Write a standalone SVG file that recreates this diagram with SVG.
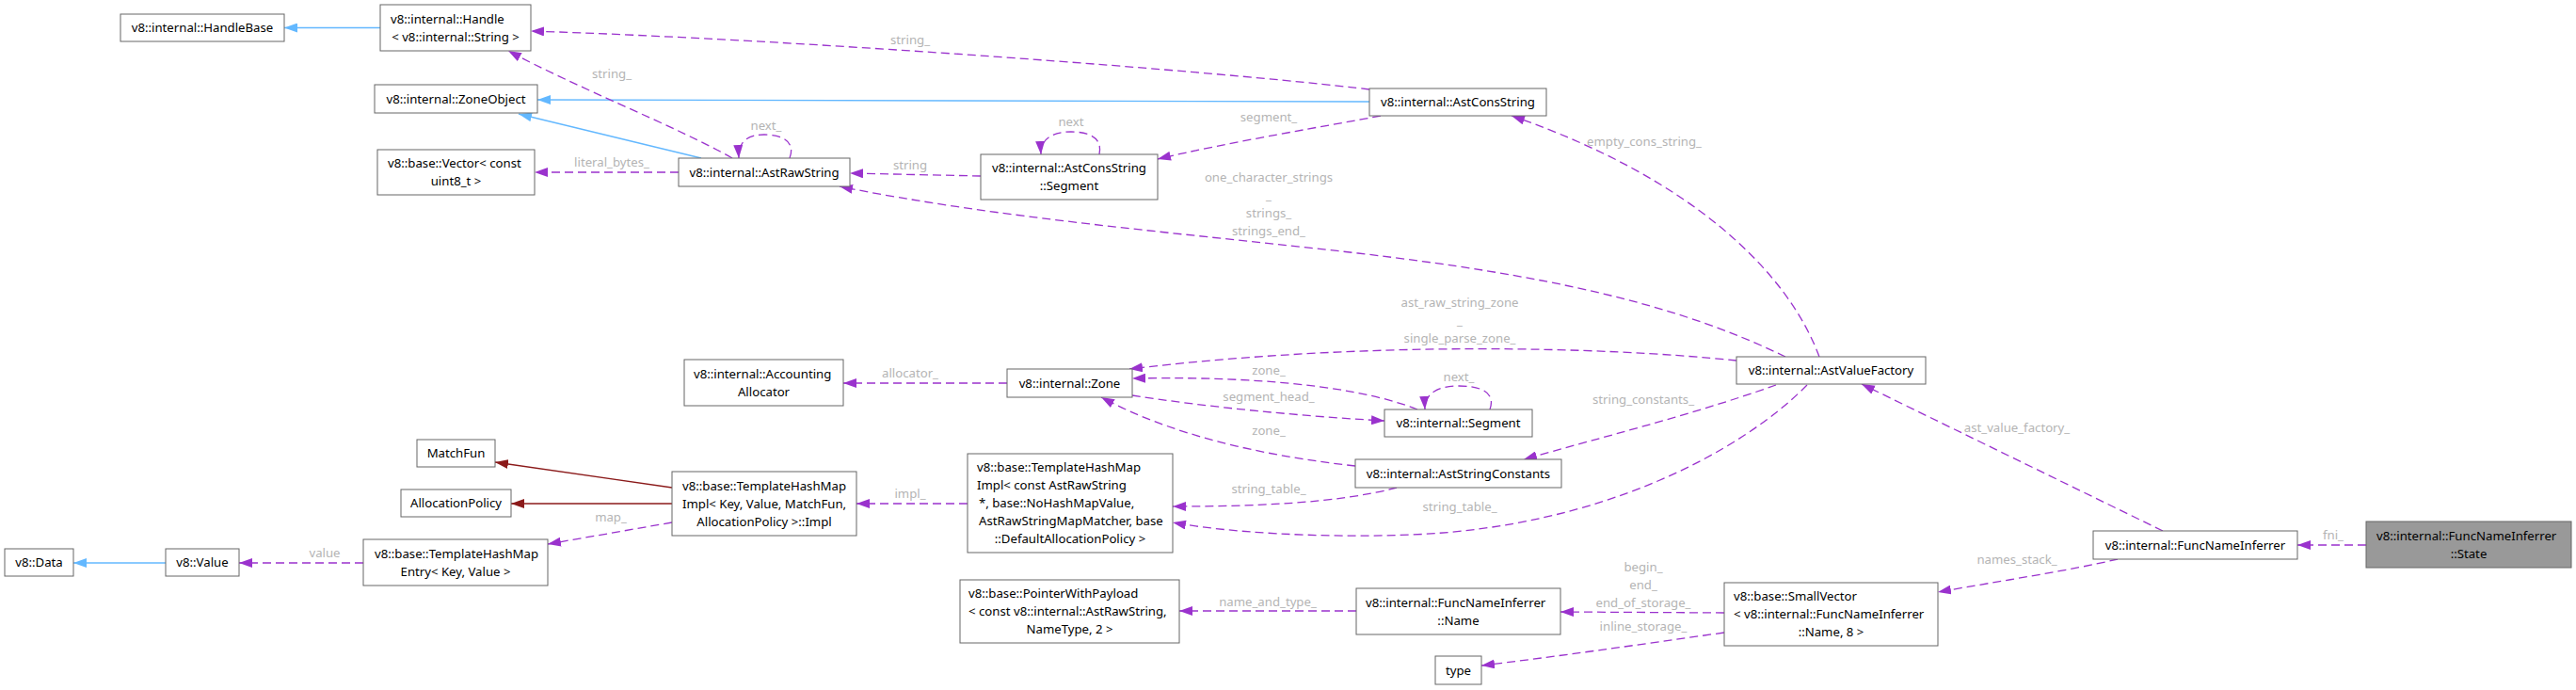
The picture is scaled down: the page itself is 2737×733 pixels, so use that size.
<svg xmlns="http://www.w3.org/2000/svg" width="2737" height="733" viewBox="0 0 2737 733">
<style>
.node rect{fill:#fff;stroke:#666;stroke-width:1}
.node.hl rect{fill:#999}
.node text{font-family:"Noto Sans","Open Sans","DejaVu Sans",sans-serif;font-size:13.2px;fill:#000}
.m{text-anchor:middle}
.lbl{font-family:"Noto Sans","Open Sans","DejaVu Sans",sans-serif;font-size:13.2px;fill:#b4b4b4;text-anchor:middle}
.dash{fill:none;stroke:#9a32cd;stroke-width:1.3;stroke-dasharray:9,5;marker-end:url(#ap)}
.inh{fill:none;stroke:#63b8ff;stroke-width:1.3;marker-end:url(#ab)}
.tpl{fill:none;stroke:#8b1a1a;stroke-width:1.3;marker-end:url(#ar)}
</style>
<defs>
<marker id="ap" markerUnits="userSpaceOnUse" viewBox="0 0 14 10" refX="14" refY="5" markerWidth="14" markerHeight="10" orient="auto"><path d="M0,0 L14,5 L0,10 z" fill="#9a32cd"/></marker>
<marker id="ab" markerUnits="userSpaceOnUse" viewBox="0 0 14 10" refX="14" refY="5" markerWidth="14" markerHeight="10" orient="auto"><path d="M0,0 L14,5 L0,10 z" fill="#63b8ff"/></marker>
<marker id="ar" markerUnits="userSpaceOnUse" viewBox="0 0 14 10" refX="14" refY="5" markerWidth="14" markerHeight="10" orient="auto"><path d="M0,0 L14,5 L0,10 z" fill="#8b1a1a"/></marker>
</defs>
<rect width="2737" height="733" fill="#fff"/>
<g id="edges">
<path class="inh" d="M404,29.5 L302,29.5"/>
<path class="inh" d="M1455,108 L571,106"/>
<path class="inh" d="M745,168 L551,121"/>
<path class="inh" d="M176,598 L78,598"/>
<path class="tpl" d="M714,518 L526,491"/>
<path class="tpl" d="M714,535 L543,535"/>
<path class="dash" d="M1455,95 C1300,76 850,42 564,33"/>
<text class="lbl" x="967" y="46.5">string_</text>
<path class="dash" d="M778,168 C720,135 610,92 540,54"/>
<text class="lbl" x="650" y="82.5">string_</text>
<path class="dash" d="M721,183 L568,183"/>
<text class="lbl" x="650" y="176.5">literal_bytes_</text>
<path class="dash" d="M839,168 C846,150 830,143 812,143 C795,143 784,150 785,168"/>
<text class="lbl" x="814" y="137.5">next_</text>
<path class="dash" d="M1042,187 L903,184"/>
<text class="lbl" x="967" y="179.5">string</text>
<path class="dash" d="M1168,164 C1172,145 1155,140 1138,140 C1118,140 1105,148 1106,164"/>
<text class="lbl" x="1138" y="133.5">next</text>
<path class="dash" d="M1467,123 C1420,132 1300,152 1230,169"/>
<text class="lbl" x="1348" y="128.5">segment_</text>
<path class="dash" d="M1933,379 C1900,290 1800,190 1606,123"/>
<text class="lbl" x="1747" y="154.5">empty_cons_string_</text>
<path class="dash" d="M1897,379 C1780,322 1640,292 1443,269 C1260,248 1060,232 892,198"/>
<text class="lbl" x="1348" y="192.5">one_character_strings</text>
<text class="lbl" x="1348" y="211.5">_</text>
<text class="lbl" x="1348" y="230.5">strings_</text>
<text class="lbl" x="1348" y="249.5">strings_end_</text>
<path class="dash" d="M1845,383 C1700,368 1450,362 1200,392"/>
<text class="lbl" x="1551" y="325.5">ast_raw_string_zone</text>
<text class="lbl" x="1551" y="344.5">_</text>
<text class="lbl" x="1551" y="363.5">single_parse_zone_</text>
<path class="dash" d="M1506,435 C1430,405 1300,400 1203,402"/>
<text class="lbl" x="1348" y="397.5">zone_</text>
<path class="dash" d="M1203,420 C1280,432 1380,442 1471,447"/>
<text class="lbl" x="1348" y="425.5">segment_head_</text>
<path class="dash" d="M1583,435 C1590,415 1570,410 1550,410 C1528,410 1513,418 1514,435"/>
<text class="lbl" x="1550" y="404.5">next_</text>
<path class="dash" d="M1440,495 C1350,485 1250,465 1170,422"/>
<text class="lbl" x="1348" y="461.5">zone_</text>
<path class="dash" d="M1887,409 C1800,440 1700,465 1619,488"/>
<text class="lbl" x="1746" y="428.5">string_constants_</text>
<path class="dash" d="M1484,518 C1420,535 1330,538 1246,538"/>
<text class="lbl" x="1348" y="523.5">string_table_</text>
<path class="dash" d="M1920,409 C1850,480 1700,560 1500,568 C1400,572 1300,565 1246,555"/>
<text class="lbl" x="1551" y="542.5">string_table_</text>
<path class="dash" d="M1070,407 L896,407"/>
<text class="lbl" x="967" y="400.5">allocator_</text>
<path class="dash" d="M1028,535 L910,535"/>
<text class="lbl" x="967" y="528.5">impl_</text>
<path class="dash" d="M714,555 L582,578"/>
<text class="lbl" x="649" y="553.5">map_</text>
<path class="dash" d="M386,598 L254,598"/>
<text class="lbl" x="345" y="591.5">value</text>
<path class="dash" d="M1441,649 L1253,649"/>
<text class="lbl" x="1347" y="643.5">name_and_type_</text>
<path class="dash" d="M1832,651 L1658,650"/>
<text class="lbl" x="1746" y="606.5">begin_</text>
<text class="lbl" x="1746" y="625.5">end_</text>
<text class="lbl" x="1746" y="644.5">end_of_storage_</text>
<path class="dash" d="M1832,672 C1740,685 1650,698 1574,707"/>
<text class="lbl" x="1746" y="669.5">inline_storage_</text>
<path class="dash" d="M2250,594 C2200,606 2120,618 2059,629"/>
<text class="lbl" x="2143" y="598.5">names_stack_</text>
<path class="dash" d="M2298,564 L1978,408"/>
<text class="lbl" x="2143" y="458.5">ast_value_factory_</text>
<path class="dash" d="M2514,579 L2441,579"/>
<text class="lbl" x="2479" y="572.5">fni_</text>
</g>
<g id="n_handlebase" class="node"><rect x="128" y="15" width="174" height="29"/><text class="m" x="215" y="34">v8::internal::HandleBase</text></g>
<g id="n_handle" class="node"><rect x="404" y="5" width="160" height="49"/><text x="415" y="24.5">v8::internal::Handle</text><text class="m" x="484" y="43.5">&lt; v8::internal::String &gt;</text></g>
<g id="n_zoneobject" class="node"><rect x="398" y="90" width="173" height="30"/><text class="m" x="484.5" y="109.5">v8::internal::ZoneObject</text></g>
<g id="n_vector" class="node"><rect x="401" y="159" width="167" height="48"/><text x="412" y="178">v8::base::Vector&lt; const</text><text class="m" x="484.5" y="197">uint8_t &gt;</text></g>
<g id="n_astrawstring" class="node"><rect x="721" y="168" width="182" height="30"/><text class="m" x="812" y="187.5">v8::internal::AstRawString</text></g>
<g id="n_consstring_segment" class="node"><rect x="1042" y="164" width="188" height="48"/><text x="1054" y="183">v8::internal::AstConsString</text><text class="m" x="1136" y="202">::Segment</text></g>
<g id="n_astconsstring" class="node"><rect x="1455" y="94" width="188" height="29"/><text class="m" x="1549" y="113">v8::internal::AstConsString</text></g>
<g id="n_astvaluefactory" class="node"><rect x="1845" y="379" width="201" height="29"/><text class="m" x="1945.5" y="398">v8::internal::AstValueFactory</text></g>
<g id="n_segment" class="node"><rect x="1471" y="435" width="157" height="29"/><text class="m" x="1549.5" y="454">v8::internal::Segment</text></g>
<g id="n_aststringconstants" class="node"><rect x="1440" y="488" width="219" height="30"/><text class="m" x="1549.5" y="507.5">v8::internal::AstStringConstants</text></g>
<g id="n_zone" class="node"><rect x="1070" y="392" width="133" height="30"/><text class="m" x="1136.5" y="411.5">v8::internal::Zone</text></g>
<g id="n_accountingallocator" class="node"><rect x="727" y="382" width="169" height="49"/><text x="737" y="401.5">v8::internal::Accounting</text><text class="m" x="811.5" y="420.5">Allocator</text></g>
<g id="n_thm_impl" class="node"><rect x="714" y="501" width="196" height="68"/><text x="725" y="520.5">v8::base::TemplateHashMap</text><text x="725" y="539.5">Impl&lt; Key, Value, MatchFun,</text><text class="m" x="812" y="558.5">AllocationPolicy &gt;::Impl</text></g>
<g id="n_thm_impl_ast" class="node"><rect x="1028" y="482" width="218" height="105"/><text x="1038" y="501">v8::base::TemplateHashMap</text><text x="1038" y="520">Impl&lt; const AstRawString</text><text x="1040" y="539">*, base::NoHashMapValue,</text><text x="1040" y="558">AstRawStringMapMatcher, base</text><text class="m" x="1137" y="577">::DefaultAllocationPolicy &gt;</text></g>
<g id="n_matchfun" class="node"><rect x="443" y="467" width="83" height="29"/><text class="m" x="484.5" y="486">MatchFun</text></g>
<g id="n_allocationpolicy" class="node"><rect x="426" y="520" width="117" height="29"/><text class="m" x="484.5" y="539">AllocationPolicy</text></g>
<g id="n_thm_entry" class="node"><rect x="386" y="573" width="196" height="49"/><text x="398" y="592.5">v8::base::TemplateHashMap</text><text class="m" x="484" y="611.5">Entry&lt; Key, Value &gt;</text></g>
<g id="n_value" class="node"><rect x="176" y="583" width="78" height="29"/><text class="m" x="215" y="602">v8::Value</text></g>
<g id="n_data" class="node"><rect x="5" y="583" width="73" height="29"/><text class="m" x="41.5" y="602">v8::Data</text></g>
<g id="n_pointerwithpayload" class="node"><rect x="1020" y="616" width="233" height="67"/><text x="1029" y="635">v8::base::PointerWithPayload</text><text x="1029" y="654">&lt; const v8::internal::AstRawString,</text><text class="m" x="1136.5" y="673">NameType, 2 &gt;</text></g>
<g id="n_fni_name" class="node"><rect x="1441" y="625" width="217" height="49"/><text x="1451" y="644.5">v8::internal::FuncNameInferrer</text><text class="m" x="1549.5" y="663.5">::Name</text></g>
<g id="n_smallvector" class="node"><rect x="1832" y="619" width="227" height="67"/><text x="1842" y="638">v8::base::SmallVector</text><text x="1842" y="657">&lt; v8::internal::FuncNameInferrer</text><text class="m" x="1945.5" y="676">::Name, 8 &gt;</text></g>
<g id="n_type" class="node"><rect x="1525" y="697" width="49" height="30"/><text class="m" x="1549.5" y="716.5">type</text></g>
<g id="n_funcnameinferrer" class="node"><rect x="2224" y="564" width="217" height="30"/><text class="m" x="2332.5" y="583.5">v8::internal::FuncNameInferrer</text></g>
<g id="n_state" class="node hl"><rect x="2514" y="554" width="218" height="49"/><text x="2525" y="573.5">v8::internal::FuncNameInferrer</text><text class="m" x="2623" y="592.5">::State</text></g>
</svg>
